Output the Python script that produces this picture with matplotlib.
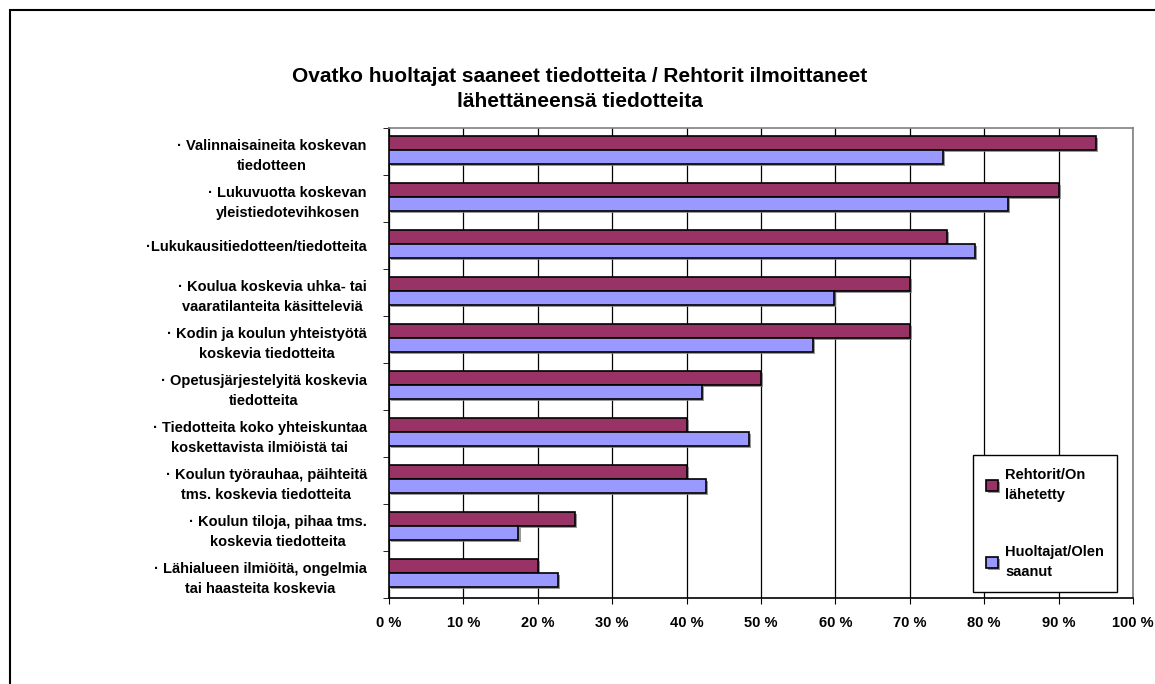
import matplotlib
matplotlib.use("Agg")
import matplotlib.pyplot as plt
import matplotlib.patheffects as pe
from matplotlib.patches import Rectangle
import numpy as np

categories = [
    "· Valinnaisaineita koskevan\ntiedotteen",
    "· Lukuvuotta koskevan\nyleistiedotevihkosen",
    "·Lukukausitiedotteen/tiedotteita",
    "· Koulua koskevia uhka- tai\nvaaratilanteita käsitteleviä",
    "· Kodin ja koulun yhteistyötä\nkoskevia tiedotteita",
    "· Opetusjärjestelyitä koskevia\ntiedotteita",
    "· Tiedotteita koko yhteiskuntaa\nkoskettavista ilmiöistä tai",
    "· Koulun työrauhaa, päihteitä\ntms. koskevia tiedotteita",
    "· Koulun tiloja, pihaa tms.\nkoskevia tiedotteita",
    "· Lähialueen ilmiöitä, ongelmia\ntai haasteita koskevia",
]
rehtorit = [95, 90, 75, 70, 70, 50, 40, 40, 25, 20]
huoltajat = [74.5, 83.2, 78.8, 59.8, 57.0, 42.1, 48.4, 42.6, 17.4, 22.7]
series_names = ["Rehtorit/On\nlähetetty", "Huoltajat/Olen\nsaanut"]
xticks = list(range(0, 101, 10))
xtick_labels = [f"{v} %" for v in xticks]
title = "Ovatko huoltajat saaneet tiedotteita / Rehtorit ilmoittaneet\nlähettäneensä tiedotteita"

plt.rcParams['font.family'] = ['Liberation Sans', 'DejaVu Sans']

fig = plt.figure(figsize=(11.55, 6.84), dpi=100)
ax = fig.add_axes([389/1155, 1-598/684, (1133-389)/1155, (598-128)/684])

y = np.arange(len(categories))
h = 0.3
shadow = [pe.SimplePatchShadow(offset=(1.5, -1.5), shadow_rgbFace='#808080', alpha=0.8), pe.Normal()]
b1 = ax.barh(y - h/2 - 0.03, rehtorit, height=h, color='#993366', edgecolor='black', linewidth=1.2,
             label=series_names[0], zorder=3)
b2 = ax.barh(y + h/2 - 0.03, huoltajat, height=h, color='#9999FF', edgecolor='black', linewidth=1.2,
             label=series_names[1], zorder=3)
for b in list(b1) + list(b2):
    b.set_path_effects(shadow)

ax.set_xlim(0, 100)
ax.set_ylim(len(categories) - 0.5, -0.5)
ax.set_xticks(xticks)
ax.set_xticklabels(xtick_labels, fontsize=10.5, fontweight='bold')
ax.set_yticks(y)
ax.set_yticklabels(categories, fontsize=10.5, fontweight='bold', multialignment='center', linespacing=1.55)
ax.set_yticks(np.arange(-0.5, len(categories), 1), minor=True)
ax.tick_params(axis='y', which='major', length=0, pad=16)
ax.tick_params(axis='y', which='minor', length=4, direction='out', color='black')
ax.tick_params(axis='x', length=4, direction='out', pad=9)
ax.grid(axis='x', color='black', linewidth=0.9, zorder=0)
ax.set_axisbelow(True)
for s in ['left', 'bottom']:
    ax.spines[s].set_color('black')
    ax.spines[s].set_linewidth(1.2)
for s in ['top', 'right']:
    ax.spines[s].set_color('#808080')
    ax.spines[s].set_linewidth(1.2)

leg = ax.legend(loc='lower right', bbox_to_anchor=(0.9785, 0.013), borderaxespad=0, fancybox=False,
                framealpha=1, edgecolor='black', prop={'weight': 'bold', 'size': 10.5}, labelspacing=2.9,
                handlelength=0.8, handleheight=0.8, handletextpad=0.5, borderpad=0.9)
leg.get_frame().set_linewidth(1.0)
for t in leg.get_texts():
    t.set_linespacing(1.55)

fig.text(0.502, 1-89/684, title, ha='center', va='center', fontsize=15, fontweight='bold',
         linespacing=1.4)

fig.patches.append(Rectangle((10/1155, -0.1), 1.2, 0.1 + 1 - 10/684, transform=fig.transFigure,
                             fill=False, edgecolor='black', linewidth=1.5, clip_on=False))

fig.savefig("out.png", dpi=100)
